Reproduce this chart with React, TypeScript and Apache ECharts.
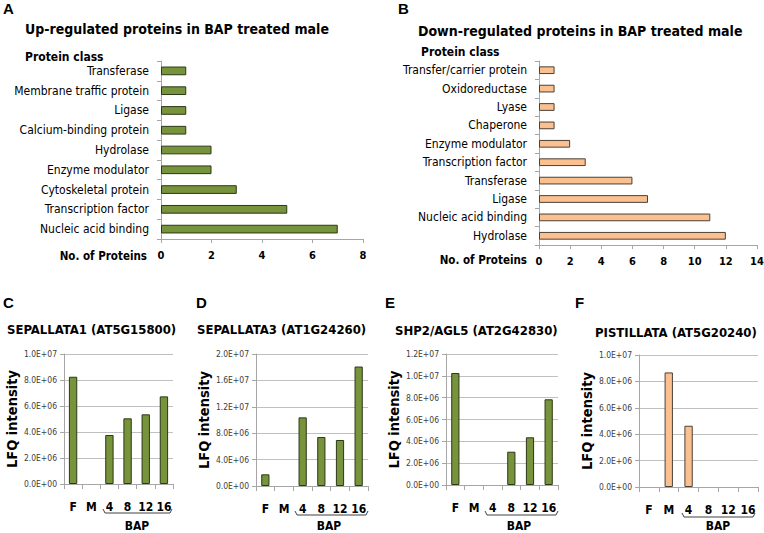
import React, { useEffect, useRef } from 'react';
import * as echarts from 'echarts';

const upCategories = ['Transferase', 'Membrane traffic protein', 'Ligase', 'Calcium-binding protein', 'Hydrolase', 'Enzyme modulator', 'Cytoskeletal protein', 'Transcription factor', 'Nucleic acid binding'];
const upValues = [1, 1, 1, 1, 2, 2, 3, 5, 7];
const upTicks = [0, 2, 4, 6, 8];

const downCategories = ['Transfer/carrier protein', 'Oxidoreductase', 'Lyase', 'Chaperone', 'Enzyme modulator', 'Transcription factor', 'Transferase', 'Ligase', 'Nucleic acid binding', 'Hydrolase'];
const downValues = [1, 1, 1, 1, 2, 3, 6, 7, 11, 12];
const downTicks = [0, 2, 4, 6, 8, 10, 12, 14];

const sampleCategories = ['F', 'M', '4', '8', '12', '16'];
const sep1Values = [8.25e6, null, 3.77e6, 5.05e6, 5.36e6, 6.74e6];
const sep3Values = [1.77e6, null, 1.04e7, 7.42e6, 6.97e6, 1.81e7];
const shp2Values = [1.026e7, null, null, 3.05e6, 4.37e6, 7.85e6];
const pistValues = [null, 8.68e6, 4.64e6, null, null, null];

const FN = "'DejaVu Sans Condensed',sans-serif";
const FB = "'Liberation Sans',Arial,sans-serif";
const GREEN = '#77933C';
const GREEN_B = '#2c3816';
const ORANGE = '#FAC090';
const ORANGE_B = '#4a4036';
const AXIS = '#a6a6a6';
const GRID = '#c0c0c0';

function sci(v: number): string {
  const [m, e] = v.toExponential(1).split('e');
  const sign = e[0] === '-' ? '-' : '+';
  const digits = e.replace(/[+-]/, '').padStart(2, '0');
  return `${m}E${sign}${digits}`.toUpperCase();
}

function text(x: number, y: number, t: string, size: number, bold: boolean, align = 'left', family = FN) {
  return {
    type: 'text',
    x,
    y,
    silent: true,
    style: {
      text: t,
      fill: '#000',
      font: `${bold ? 'bold ' : ''}${size}px ${family}`,
      align,
      verticalAlign: 'middle',
      textAlign: align,
      textVerticalAlign: 'middle',
    },
  };
}

function bracket(x1: number, x2: number, y: number) {
  return {
    type: 'polyline',
    silent: true,
    shape: { points: [[x1, y - 4], [x1 + 2, y], [x2 - 2, y], [x2, y - 4]] },
    style: { stroke: '#404040', lineWidth: 1, fill: 'none' },
  };
}

export default function App() {
  const ref = useRef<HTMLDivElement>(null);
  useEffect(() => {
    if (!ref.current) return;
    const chart = echarts.init(ref.current, null, { renderer: 'svg' });

    const hxAxis = (gi: number, ticks: number[]) => ({
      type: 'value',
      gridIndex: gi,
      min: ticks[0],
      max: ticks[ticks.length - 1],
      interval: ticks[1] - ticks[0],
      axisLine: { show: true, lineStyle: { color: AXIS } },
      axisTick: { show: true, length: 4, lineStyle: { color: AXIS } },
      splitLine: { show: false },
      axisLabel: { color: '#000', fontWeight: 'bold', fontSize: 11, fontFamily: FN, margin: 11 },
    });
    const hyAxis = (gi: number, cats: string[]) => ({
      type: 'category',
      gridIndex: gi,
      data: cats,
      inverse: true,
      axisLine: { show: true, lineStyle: { color: AXIS } },
      axisTick: { show: true, length: 4, lineStyle: { color: AXIS } },
      axisLabel: { color: '#000', fontSize: 12, fontFamily: FN, margin: 12, interval: 0 },
    });
    const vxAxis = (gi: number) => ({
      type: 'category',
      gridIndex: gi,
      data: sampleCategories,
      axisLine: { show: true, lineStyle: { color: AXIS } },
      axisTick: { show: true, length: 5, lineStyle: { color: AXIS } },
      axisLabel: { color: '#000', fontWeight: 'bold', fontSize: 12, fontFamily: FN, margin: 17, interval: 0 },
    });
    const vyAxis = (gi: number, max: number, interval: number) => ({
      type: 'value',
      gridIndex: gi,
      min: 0,
      max,
      interval,
      name: 'LFQ intensity',
      nameLocation: 'middle',
      nameGap: 43,
      nameRotate: 90,
      nameTextStyle: { color: '#000', fontWeight: 'bold', fontSize: 14.5, fontFamily: FN },
      axisLine: { show: true, lineStyle: { color: AXIS } },
      axisTick: { show: true, length: 4, lineStyle: { color: AXIS } },
      splitLine: { show: true, lineStyle: { color: GRID } },
      axisLabel: { color: '#404040', fontSize: 8.5, fontFamily: FN, margin: 7, formatter: (v: number) => sci(v) },
    });
    const bar = (xi: number, data: (number | null)[], color: string, border: string, width: string) => ({
      type: 'bar',
      xAxisIndex: xi,
      yAxisIndex: xi,
      data,
      barWidth: width,
      itemStyle: { color, borderColor: border, borderWidth: 1 },
    });
    const g = (left: number, top: number, width: number, height: number) => ({
      left, top, width, height, outerBoundsMode: 'none', containLabel: false,
    });

    chart.setOption({
      animation: false,
      backgroundColor: '#fff',
      grid: [
        g(161, 61, 202, 178),
        g(539, 61, 218, 184),
        g(64, 354, 109, 130),
        g(256, 354, 112, 132),
        g(446, 354, 112, 131),
        g(639, 355, 119, 132),
      ],
      xAxis: [hxAxis(0, upTicks), hxAxis(1, downTicks), vxAxis(2), vxAxis(3), vxAxis(4), vxAxis(5)],
      yAxis: [
        hyAxis(0, upCategories),
        hyAxis(1, downCategories),
        vyAxis(2, 1e7, 2e6),
        vyAxis(3, 2e7, 4e6),
        vyAxis(4, 1.2e7, 2e6),
        vyAxis(5, 1e7, 2e6),
      ],
      series: [
        bar(0, upValues, GREEN, GREEN_B, '44%'),
        bar(1, downValues, ORANGE, ORANGE_B, '42%'),
        bar(2, sep1Values, GREEN, GREEN_B, '46%'),
        bar(3, sep3Values, GREEN, GREEN_B, '44%'),
        bar(4, shp2Values, GREEN, GREEN_B, '44%'),
        bar(5, pistValues, ORANGE, ORANGE_B, '42%'),
      ],
      graphic: [
        text(3, 8, 'A', 15, true, 'left', FB),
        text(398, 8, 'B', 15, true, 'left', FB),
        text(25, 29, 'Up-regulated proteins in BAP treated male', 14, true),
        text(418, 31, 'Down-regulated proteins in BAP treated male', 14, true),
        text(25, 57, 'Protein class', 12, true),
        text(421, 52, 'Protein class', 12, true),
        text(147, 256, 'No. of Proteins', 11.5, true, 'right'),
        text(527, 260, 'No. of Proteins', 11.5, true, 'right'),
        text(3, 302, 'C', 15, true, 'left', FB),
        text(196, 302, 'D', 15, true, 'left', FB),
        text(385, 302, 'E', 15, true, 'left', FB),
        text(575, 302, 'F', 15, true, 'left', FB),
        text(7, 329, 'SEPALLATA1 (AT5G15800)', 13, true),
        text(197, 329, 'SEPALLATA3 (AT1G24260)', 13, true),
        text(395, 330, 'SHP2/AGL5 (AT2G42830)', 13, true),
        text(595, 332, 'PISTILLATA (AT5G20240)', 13, true),
        bracket(103, 172, 513),
        bracket(295, 368, 515),
        bracket(485, 558, 515),
        bracket(682, 755, 517),
        text(137, 526, 'BAP', 12, true, 'center'),
        text(329, 526, 'BAP', 12, true, 'center'),
        text(519, 526, 'BAP', 12, true, 'center'),
        text(718, 526, 'BAP', 12, true, 'center'),
      ],
    });
    return () => chart.dispose();
  }, []);
  return <div ref={ref} style={{ position: 'absolute', left: 0, top: 0, width: 764, height: 533 }} />;
}
